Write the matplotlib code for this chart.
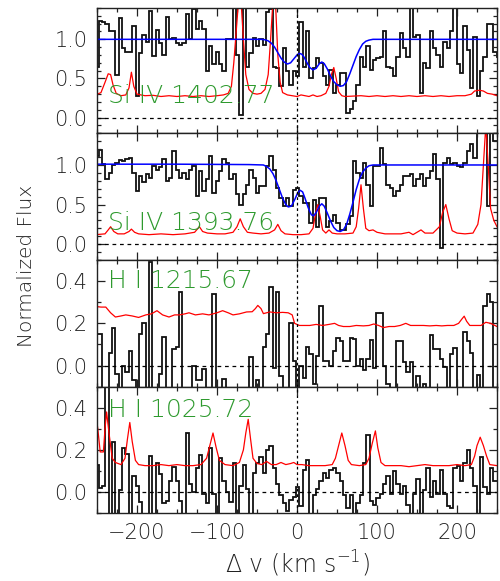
import numpy as np
import matplotlib
matplotlib.use("Agg")
import matplotlib.pyplot as plt
from matplotlib.ticker import MultipleLocator

plt.rcParams['font.family'] = ['DejaVu Sans']
plt.rcParams['font.weight'] = 'light'

# ---------------- data ----------------
V_START = -252.0
DV = 4.18  # km/s per pixel bin

labels = ["Si IV 1402.77", "Si IV 1393.76", "H I 1215.67", "H I 1025.72"]

flux_si1402 = [0.65,1.23,1.22,1.20,1.10,1.10,0.54,1.27,0.89,0.84,
               0.84,1.17,0.27,0.82,1.05,0.96,1.36,0.79,1.12,0.95,
               0.80,1.29,1.01,1.02,0.95,0.93,0.95,1.32,1.00,1.39,
               1.13,1.24,1.13,0.59,0.92,0.68,0.84,0.68,0.60,1.01,
               1.01,1.45,0.80,0.04,1.45,0.65,0.82,1.02,0.91,1.01,
               0.93,1.35,1.39,0.65,0.63,0.40,0.89,0.59,0.42,0.59,
               0.53,
               1.22,0.65,1.10,0.51,0.63,0.76,0.70,0.53,0.42,0.61,
               0.32,0.42,0.57,0.57,0.06,0.11,0.21,0.42,0.78,0.65,
               0.91,0.61,0.74,0.76,0.78,1.10,0.65,0.63,0.53,0.78,
               1.08,0.89,0.78,1.45,1.03,1.05,0.32,0.70,0.63,1.10,
               0.89,0.80,0.65,0.97,0.89,1.10,1.45,0.68,0.57,1.17,
               0.86,0.38,1.03,0.27,0.59,0.78,1.20,1.20,0.84,0.78]

flux_si1393 = [1.11,1.19,1.01,0.82,0.90,1.00,1.03,1.06,1.05,1.08,
               1.09,0.90,0.67,0.86,0.78,0.88,0.84,0.99,0.94,0.97,
               1.07,0.80,0.84,1.18,0.94,0.84,0.90,0.82,0.94,0.99,
               0.61,0.92,0.67,0.82,1.11,0.65,0.80,0.92,1.07,1.03,
               0.82,0.88,0.63,0.50,0.63,0.75,0.94,0.84,0.65,0.73,
               0.73,0.99,1.11,0.94,0.71,0.58,0.48,0.58,0.48,0.69,
               0.71,0.61,0.52,0.52,0.27,0.56,0.22,0.58,0.58,0.22,
               0.29,0.37,0.27,0.18,0.18,0.25,0.35,1.05,0.90,0.84,
               1.03,0.75,0.48,0.99,0.99,1.22,1.01,0.75,0.71,0.61,
               0.67,0.75,0.86,0.86,0.88,0.73,0.82,0.88,0.73,0.84,
               0.92,1.14,0.82,-0.05,1.03,1.09,1.01,1.03,0.99,0.97,
               1.03,1.18,1.26,1.09,1.45,1.45,1.45,0.48,1.45,1.30]

flux_h1215 = [0.15,0.15,-0.15,-0.15,0.06,0.18,-0.04,-0.15,0.0,-0.03,
              0.07,-0.07,-0.15,0.15,0.2,-0.15,0.49,-0.15,-0.15,-0.04,
              0.135,-0.15,-0.15,0.077,0.09,0.35,-0.15,-0.15,-0.15,0.0,
              -0.07,-0.07,-0.015,-0.15,-0.15,0.34,-0.15,-0.15,-0.065,-0.15,
              -0.15,-0.15,-0.15,-0.15,-0.15,-0.15,0.04,-0.15,-0.07,-0.15,
              0.09,0.15,0.37,-0.01,0.35,-0.05,-0.15,-0.15,0.2,0.02,
              -0.15,0.0,-0.06,0.09,0.055,-0.085,0.045,0.28,0.02,0.02,
              0.0,0.07,0.13,0.115,0.02,0.02,0.13,0.125,0.0,0.03,
              -0.02,0.03,0.12,-0.01,0.25,0.25,0.0,-0.085,-0.15,-0.15,
              0.115,0.115,0.015,-0.03,0.015,-0.15,-0.05,-0.15,-0.085,-0.15,
              0.145,0.077,0.077,0.03,-0.008,-0.15,0.054,0.085,-0.15,-0.15,
              0.16,0.115,0.06,-0.15,-0.045,-0.15,0.28,0.34,0.3,-0.15]

flux_h1025 = [0.13,0.02,0.03,0.50,-0.15,0.235,-0.15,0.01,0.21,0.18,
              -0.15,0.075,0.03,-0.05,-0.15,-0.15,0.17,-0.15,0.136,0.083,
              -0.053,-0.045,0.053,0.12,0.053,-0.045,-0.15,0.28,0.038,0.0,
              0.114,0.177,-0.008,-0.053,0.21,-0.008,-0.15,0.159,0.053,0.0,
              -0.05,0.136,-0.15,0.03,0.13,0.015,-0.15,0.091,0.136,0.167,
              0.091,0.197,0.22,0.114,0.038,-0.015,-0.053,-0.09,-0.038,-0.023,
              0.023,-0.068,0.106,0.15,-0.15,-0.015,0.015,0.053,0.091,0.068,
              0.106,0.114,0.091,0.053,-0.015,-0.076,-0.015,-0.15,-0.053,-0.015,
              0.136,0.27,-0.045,-0.061,-0.03,-0.008,0.038,0.076,-0.008,0.098,
              0.038,-0.008,0.03,-0.061,-0.15,-0.008,0.061,-0.15,0.008,0.114,
              -0.023,0.053,-0.008,0.106,-0.008,-0.068,-0.076,0.114,0.121,0.053,
              0.136,0.197,0.114,0.03,-0.15,0.167,0.023,-0.008,0.114,0.05]

# error spectra (red)
err1402_v = [-252,-245,-240,-236,-233,-230,-226,-220,-214,-210,-207,-204,-200,-190,-180,-170,-160,-150,-140,-130,
             -120,-110,-100,-92,-86,-82,-79,-76,-73,-70,-67,-64,-60,-55,-50,-45,-40,-36,-33,-30,
             -27,-24,-21,-18,-12,-6,0,5,10,15,20,25,30,36,40,43,46,49,52,56,
             60,70,80,90,100,110,120,130,140,150,160,170,180,190,200,210,218,222,228,233,238,244,250]
err1402_f = [0.29,0.32,0.45,0.56,0.55,0.42,0.31,0.28,0.29,0.38,0.58,0.40,0.30,0.28,0.285,0.27,0.28,0.27,0.28,0.27,
             0.28,0.27,0.28,0.29,0.31,0.40,0.70,1.10,1.50,1.50,1.00,0.55,0.36,0.31,0.30,0.31,0.36,0.55,1.00,1.50,
             1.50,0.80,0.45,0.32,0.29,0.28,0.27,0.29,0.28,0.27,0.29,0.27,0.28,0.31,0.40,0.55,0.64,0.50,0.33,0.28,
             0.27,0.275,0.28,0.27,0.28,0.27,0.28,0.27,0.28,0.27,0.28,0.27,0.28,0.27,0.28,0.28,0.30,0.34,0.35,0.34,0.31,0.30,0.28]

err1393_v = [-252,-240,-236,-233,-229,-224,-216,-210,-207,-203,-198,-185,-170,-155,-140,-128,-122,-118,-112,-100,
             -90,-80,-75,-71,-67,-62,-55,-45,-35,-28,-24,-20,-15,-5,5,15,20,23,26,29,
             32,36,40,44,50,60,70,74,77,80,83,86,90,95,100,110,120,130,140,145,
             150,155,160,170,178,182,186,190,194,200,210,220,226,230,233,236,239,242,246,250]
err1393_f = [0.12,0.13,0.18,0.22,0.16,0.13,0.13,0.16,0.19,0.15,0.13,0.12,0.13,0.12,0.13,0.15,0.22,0.16,0.14,0.13,
             0.13,0.15,0.22,0.32,0.22,0.15,0.14,0.13,0.14,0.18,0.25,0.17,0.13,0.12,0.12,0.13,0.20,0.38,0.50,0.35,
             0.18,0.14,0.18,0.14,0.13,0.13,0.14,0.22,0.45,0.75,0.45,0.20,0.17,0.18,0.15,0.13,0.13,0.13,0.15,0.12,
             0.15,0.18,0.14,0.14,0.22,0.40,0.50,0.32,0.17,0.14,0.13,0.14,0.25,0.50,1.00,1.50,1.00,0.45,0.30,0.22]

err1215_v = [-252,-245,-239,-233,-227,-220,-214,-206,-198,-189,-182,-175,-168,-160,-153,-147,-140,-135,-127,-118,
             -110,-100,-93,-86,-80,-72,-63,-56,-52,-49,-45,-42,-34,-26,-18,-11,-6,-3,3,8,
             16,24,32,40,47,52,58,66,74,83,90,96,102,108,115,122,129,136,142,150,
             158,166,174,181,188,196,202,206,209,212,216,223,230,236,242,250]
err1215_f = [0.28,0.277,0.277,0.25,0.23,0.235,0.24,0.235,0.228,0.24,0.245,0.26,0.24,0.23,0.24,0.24,0.245,0.25,0.24,0.245,
             0.24,0.25,0.26,0.25,0.24,0.245,0.254,0.255,0.27,0.285,0.27,0.246,0.254,0.25,0.252,0.25,0.24,0.20,0.19,0.19,
             0.19,0.195,0.19,0.195,0.20,0.19,0.185,0.185,0.19,0.188,0.19,0.197,0.19,0.18,0.185,0.185,0.19,0.2,0.19,0.19,
             0.19,0.188,0.19,0.188,0.19,0.19,0.20,0.22,0.234,0.21,0.19,0.19,0.19,0.205,0.20,0.185]

err1025_v = [-252,-249,-246,-242,-240,-238,-235,-231,-227,-220,-215,-212,-209,-206,-202,-198,-190,-180,-170,-160,
             -150,-140,-130,-120,-113,-109,-105,-101,-97,-90,-80,-72,-67,-64,-61,-58,-55,-50,-44,-38,
             -32,-26,-20,-14,-8,-4,0,6,15,25,35,44,48,52,56,60,64,68,78,86,
             90,94,98,101,105,110,120,130,140,150,160,170,180,190,200,210,218,222,225,229,233,237,241,250]
err1025_f = [0.38,0.30,0.19,0.19,0.30,0.38,0.28,0.16,0.14,0.13,0.16,0.25,0.33,0.24,0.15,0.13,0.125,0.125,0.13,0.125,
             0.13,0.125,0.125,0.13,0.16,0.22,0.28,0.21,0.15,0.13,0.125,0.14,0.20,0.28,0.345,0.25,0.16,0.135,0.13,0.145,
             0.13,0.13,0.14,0.13,0.135,0.14,0.13,0.13,0.125,0.125,0.125,0.13,0.16,0.22,0.28,0.22,0.15,0.13,0.125,0.13,
             0.16,0.23,0.29,0.21,0.14,0.125,0.125,0.125,0.12,0.125,0.13,0.125,0.125,0.125,0.13,0.125,0.13,0.17,0.22,0.26,0.22,0.17,0.13,0.125]

# model fits (blue)
fit1402_v = [-250,-45,-40,-36,-32,-28,-24,-20,-16,-12,-8,-4,0,3,6,9,12,16,20,24,
             28,31,34,38,42,46,50,54,58,62,66,70,74,78,82,86,90,95,250]
fit1402_f = [1.0,1.0,0.995,0.98,0.95,0.90,0.83,0.76,0.71,0.685,0.70,0.75,0.80,0.82,0.81,0.77,0.71,0.64,0.61,0.63,
             0.69,0.71,0.69,0.62,0.53,0.46,0.42,0.40,0.41,0.46,0.56,0.67,0.78,0.87,0.94,0.975,0.99,1.0,1.0]

fit1393_v = [-250,-150,-60,-42,-38,-34,-30,-26,-22,-18,-14,-11,-7,-3,1,4,7,10,14,18,
             21,24,28,31,34,38,42,46,50,54,58,62,66,70,74,78,82,86,90,95,250]
fit1393_f = [1.01,1.01,1.005,1.0,0.98,0.95,0.89,0.80,0.69,0.58,0.50,0.47,0.48,0.56,0.65,0.68,0.66,0.58,0.46,0.37,
             0.36,0.40,0.48,0.51,0.48,0.39,0.29,0.21,0.17,0.16,0.18,0.25,0.38,0.53,0.69,0.82,0.91,0.96,0.99,1.0,1.0]

# ---------------- figure ----------------
fig = plt.figure(figsize=(5.0, 5.81), dpi=100)
left, right = 97/500, 497/500
ybounds = [8, 133.3, 260, 386.7, 513]
H = 581.0

fluxes = [flux_si1402, flux_si1393, flux_h1215, flux_h1025]
errs = [(err1402_v, err1402_f), (err1393_v, err1393_f), (err1215_v, err1215_f), (err1025_v, err1025_f)]
fits = [(fit1402_v, fit1402_f), (fit1393_v, fit1393_f), None, None]
ylims = [(-0.2, 1.4), (-0.2, 1.4), (-0.1, 0.5), (-0.1, 0.5)]
label_y = [0.19, 0.18, 0.367, 0.355]
txtc = '#222222'
green = '#2e9a2e'

axes = []
for i in range(4):
    top = 1 - ybounds[i]/H
    bot = 1 - ybounds[i+1]/H
    ax = fig.add_axes([left, bot, right-left, top-bot])
    axes.append(ax)
    fl = np.asarray(fluxes[i])
    edges = V_START + DV*np.arange(len(fl)+1)
    ax.stairs(fl, edges, baseline=None, color='#111111', lw=1.3)
    ev, ef = errs[i]
    ax.plot(ev, ef, color='#ff0000', lw=0.9)
    if fits[i] is not None:
        ax.plot(fits[i][0], fits[i][1], color='#0000ff', lw=1.1)
    ax.axhline(0, color='black', lw=0.9, ls=(0, (3, 3)))
    ax.axvline(0, color='black', lw=0.9, ls=(0, (2.2, 2.2)))
    ax.set_xlim(-250, 250)
    ax.set_ylim(*ylims[i])
    ax.text(-236, label_y[i], labels[i], color=green, fontsize=18, ha='left', va='baseline',
            fontweight='light')
    ax.xaxis.set_major_locator(MultipleLocator(100))
    ax.xaxis.set_minor_locator(MultipleLocator(25))
    if i < 2:
        ax.set_yticks([0.0, 0.5, 1.0])
        ax.yaxis.set_minor_locator(MultipleLocator(0.1))
    else:
        ax.set_yticks([0.0, 0.2, 0.4])
        ax.yaxis.set_minor_locator(MultipleLocator(0.1))
    ax.tick_params(which='both', direction='in', top=True, right=True, colors='#222222',
                   labelcolor=txtc, labelsize=15, pad=7)
    ax.tick_params(which='major', length=6, width=0.9)
    ax.tick_params(which='minor', length=3, width=0.9)
    ax.yaxis.set_major_formatter(matplotlib.ticker.FormatStrFormatter('%.1f'))
    for sp in ax.spines.values():
        sp.set_linewidth(1.0)
        sp.set_color('#222222')
    if i < 3:
        ax.tick_params(labelbottom=False)

fig.text(0.054, 1-266/H, 'Normalized Flux', rotation=90, ha='center', va='center',
         fontsize=14.5, color=txtc, fontweight='light')
fig.text((left+right)/2, 0.03, r'$\Delta$ v (km s$^{-1}$)', ha='center', va='center',
         fontsize=17, color=txtc, fontweight='light')

fig.savefig('out.png', dpi=100)
